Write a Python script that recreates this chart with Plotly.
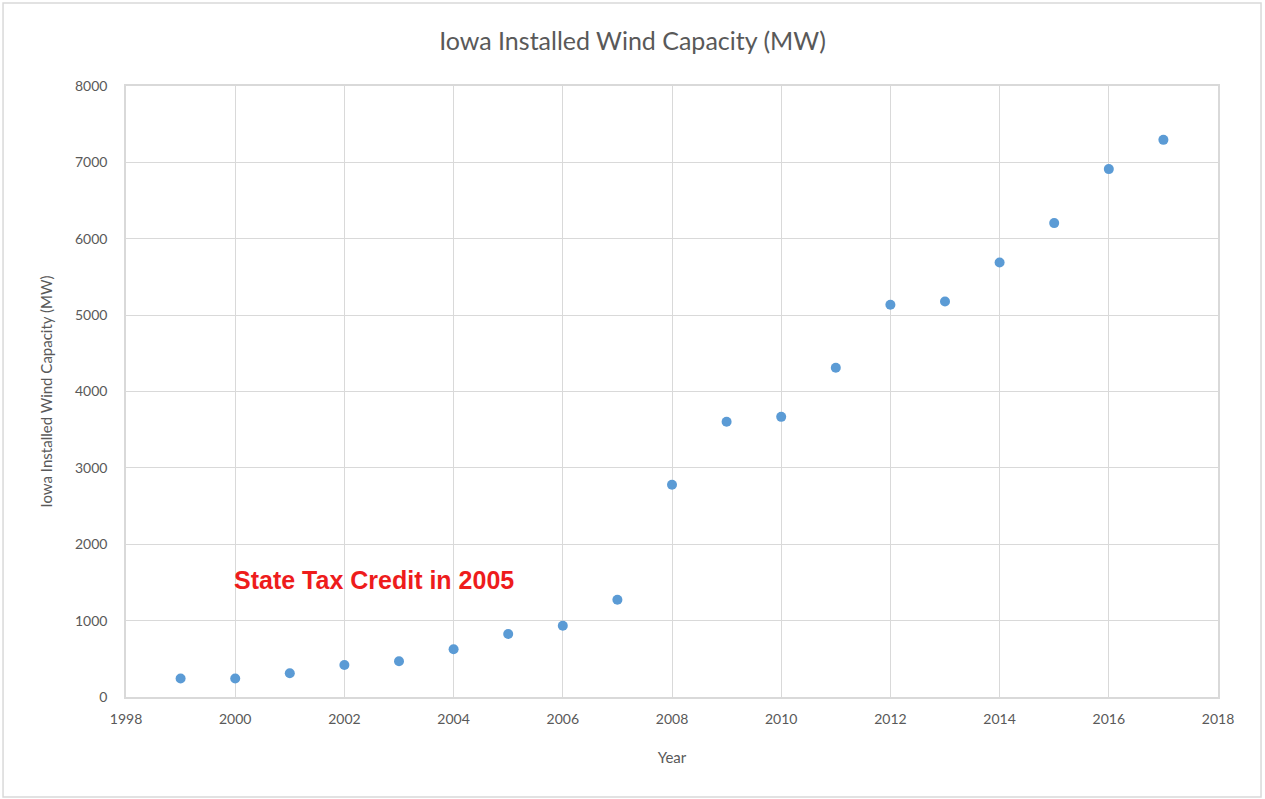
import plotly.graph_objects as go

years = [1999, 2000, 2001, 2002, 2003, 2004, 2005, 2006, 2007, 2008,
         2009, 2010, 2011, 2012, 2013, 2014, 2015, 2016, 2017]
capacity_mw = [242, 242, 310, 420, 468, 625, 825, 932, 1273, 2780,
               3603, 3668, 4312, 5135, 5178, 5690, 6205, 6912, 7295]

title_text = "Iowa Installed Wind Capacity (MW)"
x_title = "Year"
y_title = "Iowa Installed Wind Capacity (MW)"
note_text = "State Tax Credit in 2005"

grey = "#595959"
grid = "#d9d9d9"
font_family = "Lato, 'Open Sans', sans-serif"

fig = go.Figure()
fig.add_trace(go.Scatter(
    x=years, y=capacity_mw, mode="markers",
    marker=dict(color="#5B9BD5", size=10),
    showlegend=False,
))

fig.add_annotation(
    x=2002.55, y=1530, xref="x", yref="y", text="<b>" + note_text + "</b>",
    showarrow=False, font=dict(family="'Liberation Sans', Arial, sans-serif", size=25, color="#ee1c1c"),
)

# outer chart border
fig.add_shape(type="rect", xref="paper", yref="paper",
              x0=-0.1126, x1=1.0394, y0=-0.1637, y1=1.1358,
              line=dict(color=grid, width=1.5), layer="below")

fig.update_layout(
    width=1265, height=799,
    margin=dict(l=126, r=47, t=86, b=102),
    paper_bgcolor="white", plot_bgcolor="white",
    title=dict(text=title_text, x=0.5, xanchor="center", y=0.948, yanchor="middle",
               font=dict(family=font_family, size=25, color=grey)),
    font=dict(family=font_family, color=grey, size=14),
)
fig.update_xaxes(
    range=[1998, 2018], dtick=2, tick0=1998,
    showgrid=True, gridcolor=grid, gridwidth=1,
    showline=True, linecolor=grid, linewidth=1.5, mirror=True,
    zeroline=False, ticks="", ticklabelstandoff=8,
    tickfont=dict(size=14, color=grey),
    title=dict(text=x_title, font=dict(size=15, color=grey), standoff=27),
)
fig.update_yaxes(
    range=[0, 8000], dtick=1000,
    showgrid=True, gridcolor=grid, gridwidth=1,
    showline=True, linecolor=grid, linewidth=1.5, mirror=True,
    zeroline=False, ticks="", ticklabelstandoff=14,
    tickfont=dict(size=14, color=grey),
    title=dict(text=y_title, font=dict(size=15, color=grey), standoff=19),
)

fig.write_html("out.html", config={"displayModeBar": False},
               post_script="document.body.style.margin='0px';document.body.style.overflow='hidden';")
